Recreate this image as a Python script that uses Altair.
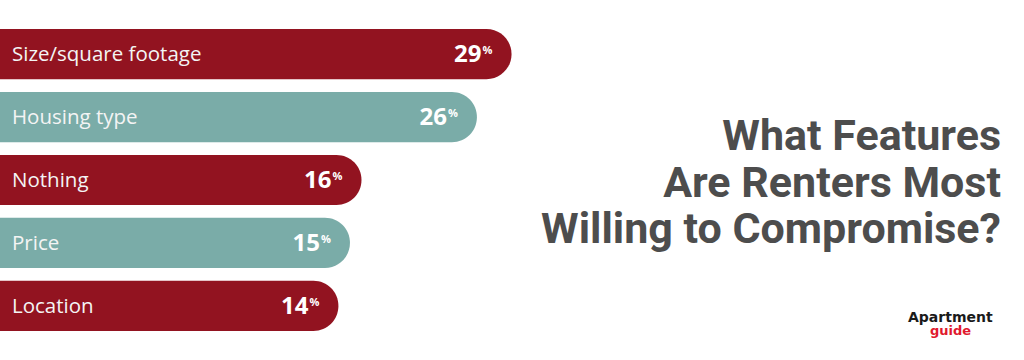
import altair as alt
import pandas as pd

categories = ["Size/square footage", "Housing type", "Nothing", "Price", "Location"]
values = [29, 26, 16, 15, 14]
groups = ["a", "b", "a", "b", "a"]
title_lines = ["What Features", "Are Renters Most", "Willing to Compromise?"]

X_MIN, X_MAX = -15.32, 73.4

df = pd.DataFrame({"cat": categories, "val": values, "grp": groups})
df["num"] = df["val"].astype(str)
df["pct"] = "%"
df["start"] = X_MIN

W, H = 1024, 360
xscale = alt.Scale(domain=[X_MIN, X_MAX], nice=False, zero=False)
yscale = alt.Scale(domain=categories, paddingInner=0.203, paddingOuter=0.462)
color = alt.Color("grp:N", scale=alt.Scale(domain=["a", "b"], range=["#921320", "#7aaca8"]), legend=None)

base = alt.Chart(df)

bars = base.mark_bar(cornerRadiusTopRight=25, cornerRadiusBottomRight=25).encode(
    y=alt.Y("cat:N", scale=yscale, axis=None, sort=categories),
    x=alt.X("start:Q", scale=xscale, axis=None),
    x2="val:Q",
    color=color,
)

cat_text = base.mark_text(align="left", baseline="middle", font="Open Sans", fontSize=20.5,
                          color="#f4f4f4", dy=1).encode(
    y=alt.Y("cat:N", scale=yscale, axis=None, sort=categories),
    x=alt.value(12),
    text="cat:N",
)

num_text = base.mark_text(align="right", baseline="middle", font="Open Sans", fontSize=24,
                          fontWeight="bold", color="#ffffff", dx=-30, dy=1).encode(
    y=alt.Y("cat:N", scale=yscale, axis=None, sort=categories),
    x=alt.X("val:Q", scale=xscale, axis=None),
    text="num:N",
)

pct_text = base.mark_text(align="left", baseline="middle", font="Open Sans", fontSize=11,
                          fontWeight="bold", color="#ffffff", dx=-29, dy=-3).encode(
    y=alt.Y("cat:N", scale=yscale, axis=None, sort=categories),
    x=alt.X("val:Q", scale=xscale, axis=None),
    text="pct:N",
)

title_df = pd.DataFrame({"t": ["\n".join(title_lines)]})
title = alt.Chart(title_df).mark_text(align="right", baseline="alphabetic", font="Roboto",
                                      fontSize=43, fontWeight="bold", color="#4d4d4d",
                                      lineBreak="\n", lineHeight=46.5).encode(
    x=alt.value(1001), y=alt.value(150), text="t:N"
)

logo_df = pd.DataFrame({"a": ["Apartment"], "g": ["guide"]})
logo1 = alt.Chart(logo_df).mark_text(align="left", baseline="alphabetic", font="DejaVu Sans",
                                     fontSize=14, fontWeight="bold", color="#1a1a1a").encode(
    x=alt.value(908), y=alt.value(322), text="a:N"
)
logo2 = alt.Chart(logo_df).mark_text(align="left", baseline="alphabetic", font="DejaVu Sans",
                                     fontSize=13, fontWeight="bold", color="#e0192d").encode(
    x=alt.value(930), y=alt.value(335), text="g:N"
)

chart = alt.layer(bars, cat_text, num_text, pct_text, title, logo1, logo2).properties(
    width=W, height=H, padding=0, autosize=alt.AutoSizeParams(type="none"),
    background="#ffffff",
).configure_view(stroke=None)

chart.save("out.html", embed_options={"renderer": "svg", "actions": False})
